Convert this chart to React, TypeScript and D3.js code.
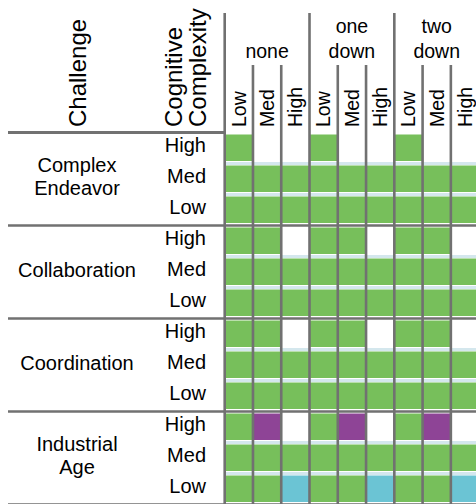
import React from "react";
import * as d3 from "d3";

// column headers
const shifts = ["none", "one down", "two down"];
const levels = ["Low", "Med", "High"];

// row headers
const challenges = ["Complex Endeavor", "Collaboration", "Coordination", "Industrial Age"];
const complexities = ["High", "Med", "Low"];

// outcome codes per cell: g = green, w = blank, p = purple, c = cyan
// each row lists none(Low,Med,High), one down(...), two down(...)
const complexEndeavor = [
  ["g", "w", "w", "g", "w", "w", "g", "w", "w"],
  ["g", "g", "g", "g", "g", "g", "g", "g", "g"],
  ["g", "g", "g", "g", "g", "g", "g", "g", "g"],
];
const collaboration = [
  ["g", "g", "w", "g", "g", "w", "g", "g", "w"],
  ["g", "g", "g", "g", "g", "g", "g", "g", "g"],
  ["g", "g", "g", "g", "g", "g", "g", "g", "g"],
];
const coordination = [
  ["g", "g", "w", "g", "g", "w", "g", "g", "w"],
  ["g", "g", "g", "g", "g", "g", "g", "g", "g"],
  ["g", "g", "g", "g", "g", "g", "g", "g", "g"],
];
const industrialAge = [
  ["g", "p", "w", "g", "p", "w", "g", "p", "w"],
  ["g", "g", "g", "g", "g", "g", "g", "g", "g"],
  ["g", "g", "c", "g", "g", "c", "g", "g", "c"],
];
const outcomes = [complexEndeavor, collaboration, coordination, industrialAge];

const fill: Record<string, string> = {
  g: "#77bf5b",
  w: "#ffffff",
  p: "#8e4496",
  c: "#6bc4d4",
};

const W = 476;
const H = 504;
const FONT = "'Liberation Sans', Arial, sans-serif";
const LINE = "#717171";

const gridLeft = 224.7;
const colW = 28.27;
const gridTop = 132.5;
const groupH = 93;

const colKeys = shifts.flatMap((s) => levels.map((l) => `${s}|${l}`));

const x = d3
  .scaleBand()
  .domain(colKeys)
  .range([gridLeft, gridLeft + colKeys.length * colW]);

const xShift = d3
  .scaleBand()
  .domain(shifts)
  .range([gridLeft, gridLeft + colKeys.length * colW]);

const yGroup = d3
  .scaleBand()
  .domain(challenges)
  .range([gridTop, gridTop + challenges.length * groupH]);

const yRow = d3.scaleBand().domain(complexities).range([0, groupH]);

const App: React.FC = () => {
  const rowH = yRow.bandwidth();
  const cellTop = 2;
  const cellH = 26.5;

  return (
    <svg
      width={W}
      height={H}
      style={{ position: "absolute", left: 0, top: 0, background: "#fff" }}
      fontFamily={FONT}
    >
      {/* cells */}
      {challenges.map((ch, gi) =>
        complexities.map((cx, ri) =>
          colKeys.map((k, ci) => (
            <rect
              key={`${ch}-${cx}-${k}`}
              x={x(k)!}
              y={yGroup(ch)! + yRow(cx)! + cellTop}
              width={x.bandwidth()}
              height={cellH}
              fill={fill[outcomes[gi][ri][ci]]}
            />
          ))
        )
      )}

      {/* light separators between rows inside a group */}
      {challenges.map((ch) =>
        complexities.slice(0, -1).map((cx) => (
          <rect
            key={`sep-${ch}-${cx}`}
            x={gridLeft}
            y={yGroup(ch)! + yRow(cx)! + rowH - 1.5}
            width={W - gridLeft}
            height={3}
            fill="#d4e7ed"
          />
        ))
      )}

      {/* header rule */}
      <line x1={8} x2={gridLeft} y1={gridTop} y2={gridTop} stroke={LINE} strokeWidth={3.2} />

      {/* group rules */}
      {challenges.map((ch) => (
        <line
          key={`rule-${ch}`}
          x1={8}
          x2={W}
          y1={yGroup(ch)! + groupH}
          y2={yGroup(ch)! + groupH}
          stroke={LINE}
          strokeWidth={2.7}
        />
      ))}

      {/* vertical lines */}
      {shifts.map((s) => (
        <line
          key={`major-${s}`}
          x1={xShift(s)!}
          x2={xShift(s)!}
          y1={13}
          y2={H}
          stroke={LINE}
          strokeWidth={2.6}
        />
      ))}
      {colKeys
        .filter((k) => !k.endsWith("|Low"))
        .map((k) => (
          <line
            key={`minor-${k}`}
            x1={x(k)!}
            x2={x(k)!}
            y1={65}
            y2={H}
            stroke={LINE}
            strokeWidth={2.6}
          />
        ))}

      {/* shift headers */}
      {shifts.map((s) => {
        const words = s.split(" ");
        const cxm = xShift(s)! + xShift.bandwidth() / 2;
        return (
          <text key={`sh-${s}`} x={cxm} textAnchor="middle" fontSize={19.5}>
            {words.map((w, i) => (
              <tspan key={w} x={cxm} y={58 - (words.length - 1 - i) * 25}>
                {w}
              </tspan>
            ))}
          </text>
        );
      })}

      {/* level headers */}
      {colKeys.map((k) => {
        const cxm = x(k)! + x.bandwidth() / 2 + 6.8;
        return (
          <text
            key={`lv-${k}`}
            transform={`translate(${cxm},127) rotate(-90)`}
            fontSize={19.5}
          >
            {k.split("|")[1]}
          </text>
        );
      })}

      {/* corner titles */}
      <text transform="translate(86,127) rotate(-90)" fontSize={24}>
        Challenge
      </text>
      <text transform="translate(181.5,127) rotate(-90)" fontSize={24}>
        Cognitive
      </text>
      <text transform="translate(206,127) rotate(-90)" fontSize={24}>
        Complexity
      </text>

      {/* row labels */}
      {challenges.map((ch) => {
        const words = ch.split(" ");
        const mid = yGroup(ch)! + groupH / 2;
        return (
          <g key={`rl-${ch}`}>
            <text x={77} textAnchor="middle" fontSize={20}>
              {words.map((w, i) => (
                <tspan key={w} x={77} y={mid + 4.5 + (i - (words.length - 1) / 2) * 23.5}>
                  {w}
                </tspan>
              ))}
            </text>
            {complexities.map((cx) => (
              <text
                key={`cx-${ch}-${cx}`}
                x={206}
                y={yGroup(ch)! + yRow(cx)! + cellTop + cellH / 2 + 4.5}
                textAnchor="end"
                fontSize={20}
              >
                {cx}
              </text>
            ))}
          </g>
        );
      })}
    </svg>
  );
};

export default App;
